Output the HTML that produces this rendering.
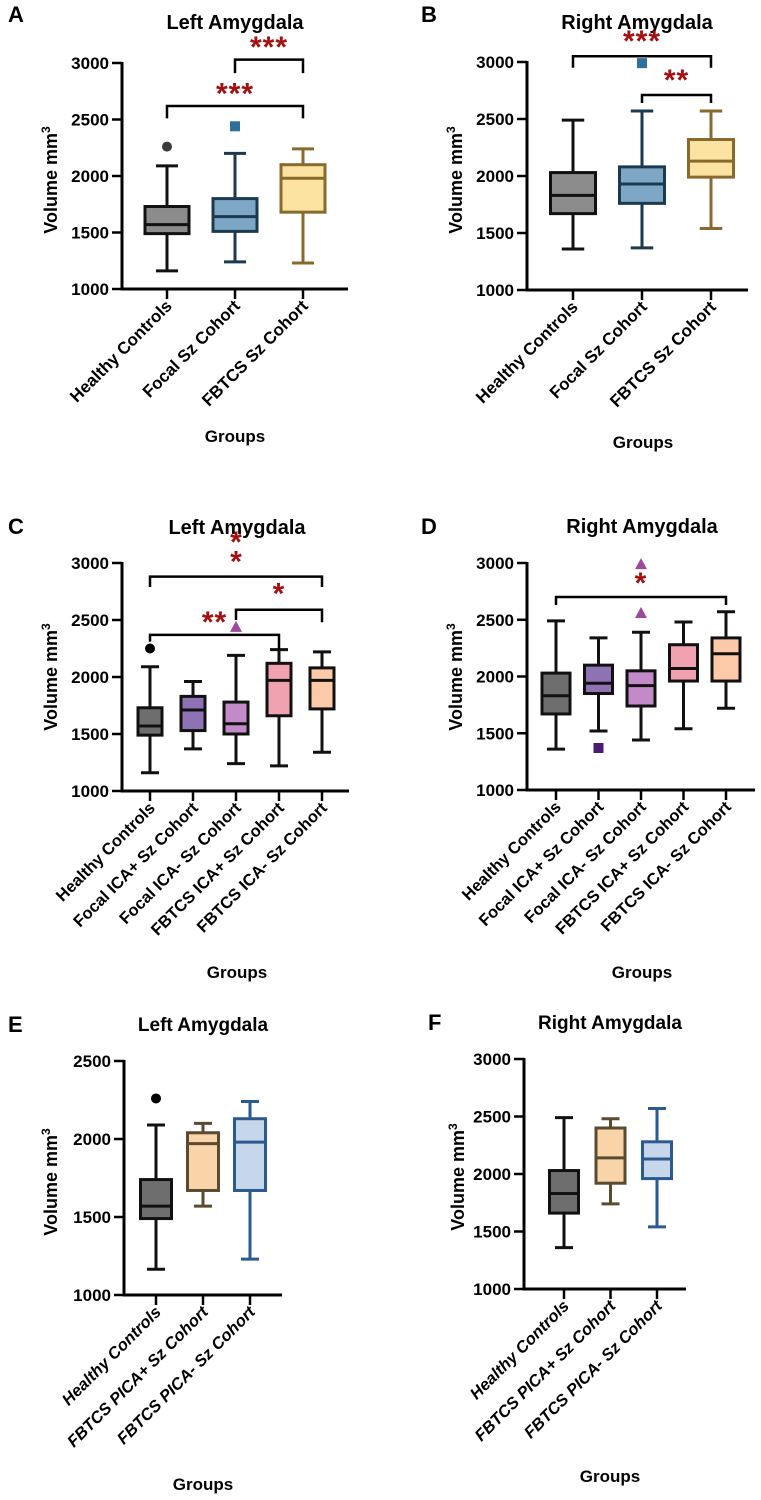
<!DOCTYPE html>
<html><head><meta charset="utf-8"><style>
html,body{margin:0;padding:0;background:#fff;}
svg{display:block;font-family:"Liberation Sans",sans-serif;}
</style></head><body>
<svg id="fig" width="761" height="1500" viewBox="0 0 761 1500" xmlns="http://www.w3.org/2000/svg"></svg>
<script>
// ---------- Panel A data ----------
const catsA = ["Healthy Controls","Focal Sz Cohort","FBTCS Sz Cohort"];
const minA = [1160,1240,1230];
const q1A  = [1490,1510,1680];
const medA = [1570,1640,1980];
const q3A  = [1730,1800,2100];
const maxA = [2090,2200,2240];
const outA = [[0,2260,"circle"],[1,2440,"square"]];
const sigA = [[1,2,3030,2910,2910,"***",1.5,3160],[0,2,2620,2510,2510,"***",1.0,2750]];
// ---------- Panel B data ----------
const catsB = ["Healthy Controls","Focal Sz Cohort","FBTCS Sz Cohort"];
const minB = [1360,1370,1540];
const q1B  = [1670,1760,1990];
const medB = [1830,1930,2130];
const q3B  = [2030,2080,2320];
const maxB = [2490,2570,2570];
const outB = [[1,2990,"square"]];
const sigB = [[0,2,3050,2950,2950,"***",1.0,3200],[1,2,2710,2640,2640,"**",1.5,2860]];
// ---------- Panel C data ----------
const catsC = ["Healthy Controls","Focal ICA+ Sz Cohort","Focal ICA- Sz Cohort","FBTCS ICA+ Sz Cohort","FBTCS ICA- Sz Cohort"];
const minC = [1160,1370,1240,1220,1340];
const q1C  = [1490,1530,1500,1660,1720];
const medC = [1570,1710,1590,1970,1970];
const q3C  = [1730,1830,1780,2120,2080];
const maxC = [2090,1960,2190,2240,2220];
const outC = [[0,2250,"circle"],[2,2440,"triangle"]];
const sigC = [[0,4,2880,2790,2790,"",2,0],[2,4,2590,2500,2480,"*",3,2750],[0,3,2370,2310,2240,"**",1.5,2500]];
const starsC = [[2,3200],[2,3030]];
// ---------- Panel D data ----------
const catsD = ["Healthy Controls","Focal ICA+ Sz Cohort","Focal ICA- Sz Cohort","FBTCS ICA+ Sz Cohort","FBTCS ICA- Sz Cohort"];
const minD = [1360,1520,1440,1540,1720];
const q1D  = [1670,1850,1740,1960,1960];
const medD = [1830,1940,1920,2070,2200];
const q3D  = [2030,2100,2050,2280,2340];
const maxD = [2490,2340,2390,2480,2570];
const outD = [[1,1370,"square"],[2,2560,"triangle"],[2,2990,"triangle"]];
const sigD = [[0,4,2700,2630,2630,"*",2,2840]];
// ---------- Panel E data ----------
const catsE = ["Healthy Controls","FBTCS PICA+ Sz Cohort","FBTCS PICA- Sz Cohort"];
const minE = [1165,1570,1230];
const q1E  = [1490,1670,1670];
const medE = [1570,1970,1980];
const q3E  = [1740,2040,2130];
const maxE = [2090,2100,2240];
const outE = [[0,2260,"circle"]];
// ---------- Panel F data ----------
const catsF = ["Healthy Controls","FBTCS PICA+ Sz Cohort","FBTCS PICA- Sz Cohort"];
const minF = [1360,1740,1540];
const q1F  = [1660,1920,1960];
const medF = [1830,2140,2130];
const q3F  = [2030,2400,2280];
const maxF = [2490,2480,2570];
const outF = [];
const ticks3000 = [1000,1500,2000,2500,3000];
const ticks2500 = [1000,1500,2000,2500];

const NS="http://www.w3.org/2000/svg";
const svg=document.getElementById('fig');
function el(tag,attrs,parent,text){const e=document.createElementNS(NS,tag);for(const k in attrs)e.setAttribute(k,attrs[k]);if(text!==undefined)e.textContent=text;(parent||svg).appendChild(e);return e;}

function panel(cfg){
  const g=el('g',{});
  
  
  const y=v=>cfg.yBot-(v-cfg.vMin)/(cfg.vMax-cfg.vMin)*(cfg.yBot-cfg.yTop);
  const x=i=>cfg.x0+i*cfg.step;
  const L=el('text',{x:cfg.letterX,y:cfg.letterY,'font-size':22,'font-weight':'bold',fill:'#000'},g,cfg.id);
  
  
  const T=el('text',{x:cfg.titleX,y:cfg.titleY,'font-size':cfg.titleSize||20,'font-weight':'bold','text-anchor':'middle',fill:'#000'},g,cfg.title);
  
  
  const ya=el('line',{x1:cfg.ax,y1:cfg.yTop-1,x2:cfg.ax,y2:cfg.yBot+1.5,stroke:'#000','stroke-width':3},g);
  
  
  const xa=el('line',{x1:cfg.ax-1.5,y1:cfg.yBot,x2:cfg.xEnd,y2:cfg.yBot,stroke:'#000','stroke-width':3},g);
  
  
  cfg.ticks.forEach(t=>{
    const tl=el('line',{x1:cfg.ax-10,y1:y(t),x2:cfg.ax,y2:y(t),stroke:'#000','stroke-width':2.5},g);
    
    
    const tt=el('text',{x:cfg.ax-13,y:y(t)+6,'font-size':17,'font-weight':'bold','text-anchor':'end',fill:'#000'},g,String(t));
    
    
  });
  const yt=el('text',{transform:`translate(${cfg.yLabX},${cfg.yLabY}) rotate(-90)`,'font-size':18,'font-weight':'bold','text-anchor':'middle',fill:'#000'},g);
  
  
  el('tspan',{},yt,'Volume mm');
  el('tspan',{'font-size':12,dy:-7},yt,'3');
  cfg.cats.forEach((c,i)=>{
    const xt=el('line',{x1:x(i),y1:cfg.yBot,x2:x(i),y2:cfg.yBot+10,stroke:'#000','stroke-width':2.5},g);
    
    
    const lx=x(i)+6, ly=cfg.yBot+18;
    const lt=el('text',{transform:`translate(${lx},${ly}) rotate(-45)`,'font-size':cfg.labSize||17,'font-weight':'bold','font-style':cfg.italic?'italic':'normal','text-anchor':'end',fill:'#000'},g,c);
    
    
  });
  const gt=el('text',{x:cfg.groupsX,y:cfg.groupsY,'font-size':17,'font-weight':'bold','text-anchor':'middle',fill:'#000'},g,'Groups');
  
  
  const bw=cfg.boxW, cw=Math.max(bw*0.5,18);
  cfg.cats.forEach((c,i)=>{
    const bg=el('g',{},g);
    
    
    const sc=cfg.strokes[i], sw=3;
    el('line',{x1:x(i),y1:y(cfg.max[i]),x2:x(i),y2:y(cfg.q3[i]),stroke:sc,'stroke-width':sw},bg);
    el('line',{x1:x(i),y1:y(cfg.q1[i]),x2:x(i),y2:y(cfg.min[i]),stroke:sc,'stroke-width':sw},bg);
    el('line',{x1:x(i)-cw/2,y1:y(cfg.max[i]),x2:x(i)+cw/2,y2:y(cfg.max[i]),stroke:sc,'stroke-width':sw},bg);
    el('line',{x1:x(i)-cw/2,y1:y(cfg.min[i]),x2:x(i)+cw/2,y2:y(cfg.min[i]),stroke:sc,'stroke-width':sw},bg);
    el('rect',{x:x(i)-bw/2,y:y(cfg.q3[i]),width:bw,height:y(cfg.q1[i])-y(cfg.q3[i]),fill:cfg.fills[i],stroke:sc,'stroke-width':sw},bg);
    el('line',{x1:x(i)-bw/2,y1:y(cfg.med[i]),x2:x(i)+bw/2,y2:y(cfg.med[i]),stroke:sc,'stroke-width':sw},bg);
  });
  cfg.out.forEach(o=>{
    const ox=x(o[0]), oy=y(o[1]); let m;
    const col=cfg.outCols[o[0]];
    if(o[2]==='circle') m=el('circle',{cx:ox,cy:oy,r:5,fill:col},g);
    else if(o[2]==='square') m=el('rect',{x:ox-5,y:oy-5,width:10,height:10,fill:col},g);
    else m=el('polygon',{points:`${ox},${oy-6} ${ox+6},${oy+5} ${ox-6},${oy+5}`,fill:col},g);
    
    
  });
  (cfg.sig||[]).forEach(s=>{
    const p=el('path',{d:`M${x(s[0])},${y(s[3])} V${y(s[2])} H${x(s[1])} V${y(s[4])}`,fill:'none',stroke:'#000','stroke-width':2.5},g);
    
    
    if(s[5]){
      const sx=cfg.x0+s[6]*cfg.step;
      const st=el('text',{x:sx,y:y(s[7])+12,'font-size':30,'font-weight':'bold','text-anchor':'middle',fill:'#a50f0f','letter-spacing':'1'},g,s[5]);
      
      
    }
  });
  (cfg.stars||[]).forEach(s=>{
    const st=el('text',{x:x(s[0]),y:y(s[1])+12,'font-size':30,'font-weight':'bold','text-anchor':'middle',fill:'#a50f0f'},g,'*');
    
    
  });
}
const threeFill=['#8c8c8c','#7ea6c5','#fce3a1'], threeStroke=['#111','#1b3a4f','#8a6a2c'];
const fiveFill=['#6e6e6e','#8f72b3','#c28ac6','#f0a2b0','#fccaa8'], fiveStroke=['#111','#111','#111','#111','#111'];
panel({id:'A',title:'Left Amygdala',letterX:8,letterY:22,titleX:235,titleY:29,ax:122,yTop:63,yBot:289,vMin:1000,vMax:3000,x0:167,step:68,xEnd:348,boxW:44,ticks:ticks3000,
  cats:catsA,min:minA,q1:q1A,med:medA,q3:q3A,max:maxA,out:outA,sig:sigA,fills:threeFill,strokes:threeStroke,outCols:['#3a3a3a','#2e6f9c'],
  yLabX:57,yLabY:180,groupsX:235,groupsY:442});
panel({id:'B',title:'Right Amygdala',letterX:421,letterY:22,titleX:637,titleY:29,ax:527,yTop:62,yBot:290,vMin:1000,vMax:3000,x0:573,step:69,xEnd:748,boxW:45,ticks:ticks3000,
  cats:catsB,min:minB,q1:q1B,med:medB,q3:q3B,max:maxB,out:outB,sig:sigB,fills:threeFill,strokes:threeStroke,outCols:['#000','#2e6f9c'],
  yLabX:462,yLabY:180,groupsX:643,groupsY:448});
panel({id:'C',title:'Left Amygdala',letterX:8,letterY:534,titleX:237,titleY:534,ax:122,yTop:563,yBot:791,vMin:1000,vMax:3000,x0:150,step:43,xEnd:349,boxW:24,ticks:ticks3000,
  cats:catsC,min:minC,q1:q1C,med:medC,q3:q3C,max:maxC,out:outC,sig:sigC,stars:starsC,fills:fiveFill,strokes:fiveStroke,outCols:['#000','#000','#9b4a9e'],
  yLabX:57,yLabY:677,groupsX:237,groupsY:978,labSize:16.5});
panel({id:'D',title:'Right Amygdala',letterX:421,letterY:534,titleX:642,titleY:533,ax:527,yTop:563,yBot:790,vMin:1000,vMax:3000,x0:556,step:42.5,xEnd:755,boxW:28,ticks:ticks3000,
  cats:catsD,min:minD,q1:q1D,med:medD,q3:q3D,max:maxD,out:outD,sig:sigD,fills:fiveFill,strokes:fiveStroke,outCols:['#000','#4b1a73','#9b4a9e'],
  yLabX:462,yLabY:677,groupsX:642,groupsY:978,labSize:16.5});
panel({id:'E',title:'Left Amygdala',letterX:8,letterY:1032,titleX:203,titleY:1031,ax:124,yTop:1061,yBot:1295,vMin:1000,vMax:2500,x0:156,step:47,xEnd:282,boxW:31,ticks:ticks2500,
  cats:catsE,min:minE,q1:q1E,med:medE,q3:q3E,max:maxE,out:outE,fills:['#6e6e6e','#f8d4a8','#c7d7eb'],strokes:['#111','#5a4a30','#2d5a8c'],outCols:['#000'],
  yLabX:57,yLabY:1182,groupsX:203,groupsY:1490,italic:true,labSize:16.5,titleSize:19});
panel({id:'F',title:'Right Amygdala',letterX:428,letterY:1030,titleX:610,titleY:1029,ax:524,yTop:1059,yBot:1289,vMin:1000,vMax:3000,x0:564,step:46.5,xEnd:686,boxW:29,ticks:ticks3000,
  cats:catsF,min:minF,q1:q1F,med:medF,q3:q3F,max:maxF,out:outF,fills:['#6e6e6e','#f8d4a8','#c7d7eb'],strokes:['#111','#5a4a30','#2d5a8c'],outCols:['#000'],
  yLabX:464,yLabY:1177,groupsX:610,groupsY:1482,italic:true,labSize:16.5,titleSize:19});
</script>
</body></html>
